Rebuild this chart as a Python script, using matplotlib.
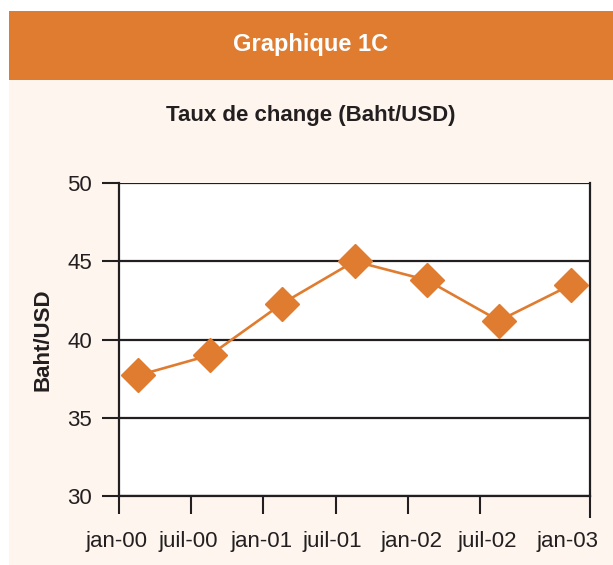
import matplotlib.pyplot as plt
import matplotlib.transforms as mtransforms
from matplotlib.patches import Rectangle

# data
periods = ["p1", "p2", "p3", "p4", "p5", "p6", "p7"]
rates = [37.7, 39.0, 42.3, 45.0, 43.8, 41.2, 43.5]
tick_labels = ["jan-00", "juil-00", "jan-01", "juil-01", "jan-02", "juil-02", "jan-03"]
y_ticks = [30, 35, 40, 45, 50]

ORANGE = "#e07c30"
CREAM = "#fdf5ee"
INK = "#231f20"

plt.rcParams['font.family'] = ['Liberation Sans', 'DejaVu Sans']

fig = plt.figure(figsize=(6.13, 5.65), dpi=100)
fig.patch.set_facecolor("white")

# panel background + header band (pixel coords -> figure fraction)
W, H = 613.0, 565.0
fig.patches.append(Rectangle((9 / W, 0), 1 - 9 / W, 1 - 11 / H, transform=fig.transFigure,
                             facecolor=CREAM, edgecolor="none", zorder=-2))
fig.patches.append(Rectangle((9 / W, 1 - 80 / H), 1 - 9 / W, 69 / H, transform=fig.transFigure,
                             facecolor=ORANGE, edgecolor="none", zorder=-1))
fig.text(311 / W, 1 - 45 / H, "Graphique 1C", color="white", fontsize=17,
         fontweight="bold", ha="center", va="center")
fig.text(311 / W, 1 - 115 / H, "Taux de change (Baht/USD)", color=INK, fontsize=16,
         fontweight="bold", ha="center", va="center")

ax = fig.add_axes([119 / W, 1 - 496 / H, 471 / W, 313 / H])
ax.set_facecolor("white")
ax.set_zorder(2)

x = list(range(len(periods)))
ax.plot(x, rates, color=ORANGE, lw=1.9, marker="D", ms=17, zorder=3)

ax.set_xlim(-0.22, 6.26)
ax.set_ylim(30, 50)

ax.set_yticks(y_ticks)
ax.set_yticklabels([str(v) for v in y_ticks])
ax.tick_params(axis="y", direction="out", length=12.5, width=1.5, pad=7,
               labelsize=16, colors=INK)
ax.yaxis.grid(True, color=INK, lw=1.6)
ax.set_axisbelow(True)

# x ticks sit a bit before each point, last one on the right edge
xt = [i - 0.26 for i in range(6)] + [6.26]
ax.set_xticks(xt)
ax.set_xticklabels(tick_labels)
ax.tick_params(axis="x", direction="out", length=13, width=1.5, pad=12,
               labelsize=16, colors=INK)
ax.get_xticklines()[-2].set_markersize(16)
label_shift = [-2, -3, -2, -3, 4, 7, -22]
for lab, dx in zip(ax.get_xticklabels(), label_shift):
    lab.set_transform(lab.get_transform() + mtransforms.ScaledTranslation(dx / 100, 0, fig.dpi_scale_trans))

for sp in ax.spines.values():
    sp.set_color(INK)
    sp.set_linewidth(1.6)
ax.spines["top"].set_visible(False)

ax.set_ylabel("Baht/USD", fontsize=16, fontweight="bold", color=INK, labelpad=10)

fig.savefig("out.png", dpi=100)
